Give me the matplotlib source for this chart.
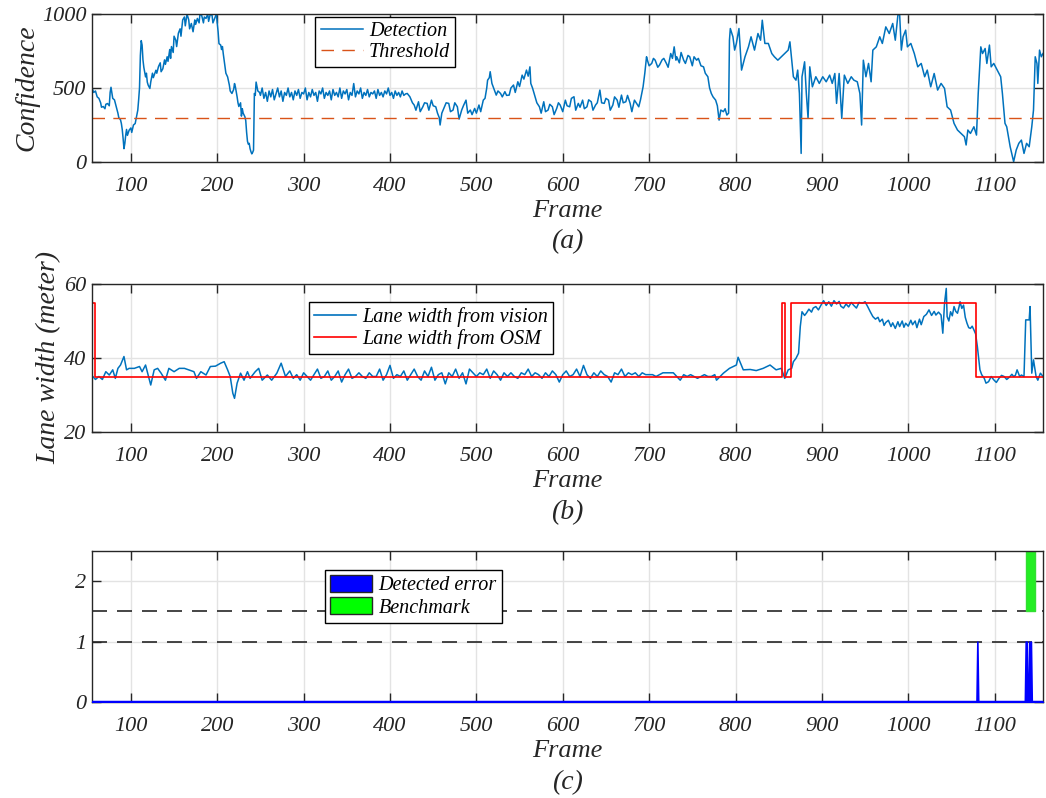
import numpy as np
import matplotlib.pyplot as plt
from matplotlib.patches import Patch
from matplotlib.lines import Line2D

plt.rcParams['font.family'] = ['Liberation Serif', 'DejaVu Serif']
plt.rcParams['font.style'] = 'italic'

# ---- (a) detection confidence ----
conf_frames = [55, 57, 59, 61, 63, 65, 66, 68, 70, 71, 73, 75, 76, 77, 79, 81, 83, 85, 86, 88,
               89, 90, 91, 92, 93, 94, 95, 96, 98, 100, 101, 103, 105, 107, 108, 109, 110, 111, 112, 113,
               114, 115, 117, 118, 119, 120, 122, 123, 125, 126, 127, 129, 130, 132, 134, 135, 137, 139, 140, 142,
               143, 145, 146, 147, 149, 150, 152, 153, 155, 157, 158, 160, 162, 163, 165, 167, 168, 170, 172, 174,
               175, 177, 179, 180, 182, 184, 185, 187, 189, 190, 192, 194, 195, 197, 199, 200, 201, 202, 204, 205,
               206, 207, 209, 210, 212, 214, 215, 217, 219, 220, 221, 223, 224, 225, 227, 228, 229, 230, 232, 233,
               234, 235, 236, 237, 238, 239, 240, 241, 242, 243, 244, 245, 247, 249,
               250, 252, 254, 256, 258, 260, 262, 264, 266, 268, 270, 272, 274, 276, 278, 280, 282, 284, 286, 288,
               290, 292, 294, 296, 298, 300, 302, 304, 306, 308, 310, 312, 314, 316, 318, 320, 322, 324, 326, 328,
               330, 332, 334, 336, 338, 340, 342, 344, 346, 348, 350, 352, 354, 356, 358, 360, 362, 364, 366, 368,
               370, 372, 374, 376, 378, 380, 382, 384, 386, 388, 390, 392, 394, 396, 398, 400, 402, 404, 406, 408,
               410, 412, 414, 416, 418,
               420, 423, 426, 428, 430, 433, 435, 438, 440, 443, 445, 448, 450, 453, 455, 457, 458, 460, 463, 465,
               468, 470, 473, 475, 478, 480, 483, 485, 488, 490, 493, 495, 498, 500, 503, 505, 508, 510, 512, 513,
               515, 516, 518, 520, 523, 525, 528, 530, 533, 535, 538, 540, 543, 545, 548, 550, 553, 555, 558, 560,
               562, 563, 565, 568, 570, 573, 575, 578, 580, 583, 585, 588, 590, 593, 595, 597, 600, 603, 605, 608,
               610, 613, 615, 618, 620, 623, 625, 628, 630, 633, 635, 638, 640, 643, 645, 648, 650, 653, 655, 658,
               660, 663, 665, 668, 670, 673, 675, 678, 680, 683, 685, 688, 690, 692, 693, 695, 697, 698, 700, 703,
               705, 707, 710, 712, 715, 717, 720, 722, 725, 727, 729, 731, 732, 735, 737, 740, 742, 745, 747, 750,
               752, 755, 757, 760, 763, 765, 768, 770, 772, 774, 777, 779, 781, 783, 786, 788, 790, 792,
               793, 794, 797, 799, 801, 804, 807, 811, 815, 818, 822, 826, 829, 831, 834, 838, 842, 845, 849, 853,
               857, 861, 863, 867, 870, 872, 874, 876, 877, 880, 882, 884, 886, 889, 893, 897, 901, 905, 909, 912,
               915, 917, 920, 923, 926, 930, 934, 937, 941, 944, 946, 948, 951, 954, 957, 959, 963, 967, 970, 974,
               978, 982, 985, 988, 990, 992, 994, 997, 999, 1003, 1007, 1011, 1015, 1019, 1022, 1026, 1030, 1034, 1038, 1042,
               1045, 1049, 1053, 1057, 1061, 1065, 1067, 1069, 1072, 1076, 1079, 1081, 1084, 1086, 1089, 1091, 1094, 1096, 1099, 1103,
               1107, 1109, 1112, 1114, 1118, 1122, 1125, 1128, 1131, 1134, 1137, 1140, 1143, 1145, 1147, 1149, 1150, 1152, 1154, 1156]
conf_vals = [500, 470, 480, 440, 430, 400, 370, 375, 360, 390, 395, 380, 470, 505, 430, 420, 375, 330, 300, 285,
             260, 220, 160, 90, 125, 180, 220, 180, 215, 230, 200, 250, 260, 320, 350, 420, 500, 720, 820, 790,
             690, 640, 575, 600, 540, 520, 497, 540, 600, 570, 587, 620, 600, 645, 670, 610, 630, 690, 660, 711,
             680, 760, 700, 780, 740, 850, 823, 780, 870, 900, 850, 960, 980, 920, 1000, 960, 900, 936, 880, 960,
             930, 970, 940, 1000, 990, 940, 980, 970, 1000, 950, 1000, 990, 940, 970, 1000, 940, 880, 800, 790, 760,
             780, 730, 640, 600, 575, 520, 480, 463, 490, 530, 508, 440, 400, 375, 400, 310, 360, 330, 306, 280,
             200, 140, 120, 126, 90, 70, 55, 65, 80, 463, 450, 540, 480, 470,
             450, 500, 430, 470, 410, 480, 440, 490, 420, 460, 500, 440, 480, 410, 470, 450, 500, 440, 470, 420,
             480, 450, 490, 430, 470, 460, 500, 420, 470, 440, 490, 450, 470, 410, 480, 460, 500, 430, 470, 450,
             480, 420, 490, 450, 470, 440, 500, 430, 480, 460, 490, 420, 470, 450, 530, 440, 480, 460, 500, 430,
             470, 450, 490, 440, 470, 460, 480, 430, 490, 450, 470, 440, 480, 460, 500, 450, 470, 430, 480, 450,
             470, 440, 480, 450, 460,
             463, 441, 400, 385, 350, 407, 340, 373, 400, 396, 350, 418, 380, 373, 330, 300, 250, 330, 373, 400,
             396, 340, 351, 400, 373, 290, 351, 380, 418, 330, 351, 320, 362, 330, 385, 340, 418, 430, 500, 553,
             570, 610, 531, 500, 452, 480, 463, 440, 475, 450, 452, 500, 520, 470, 542, 510, 587, 560, 621, 580,
             643, 531, 500, 441, 400, 373, 330, 407, 340, 351, 390, 373, 320, 362, 400, 385, 340, 418, 380, 373,
             430, 441, 350, 396, 370, 418, 360, 373, 420, 407, 350, 385, 400, 486, 400, 396, 430, 418, 350, 385,
             440, 418, 370, 452, 400, 407, 450, 396, 340, 418, 400, 373, 420, 480, 508, 600, 711, 688, 650, 666,
             700, 688, 640, 655, 690, 700, 666, 640, 733, 700, 778, 688, 711, 670, 740, 688, 666, 720, 711, 650,
             711, 688, 700, 650, 643, 600, 576, 500, 463, 440, 418, 380, 283, 351, 340, 360, 317, 330,
             823, 902, 846, 756, 801, 902, 621, 711, 778, 846, 756, 868, 823, 958, 801, 801, 733, 711, 688, 711,
             733, 756, 812, 576, 553, 621, 463, 58, 576, 677, 463, 295, 643, 508, 576, 531, 576, 542, 587, 531,
             598, 396, 598, 295, 587, 531, 576, 553, 542, 463, 250, 688, 576, 666, 542, 756, 778, 846, 801, 913,
             868, 936, 823, 992, 1000, 756, 846, 891, 778, 801, 733, 643, 666, 576, 621, 508, 598, 486, 531, 497,
             373, 351, 261, 216, 193, 171, 115, 216, 193, 238, 182, 463, 778, 733, 767, 666, 790, 643, 666, 621,
             576, 463, 261, 238, 103, 2, 81, 126, 148, 58, 126, 103, 238, 351, 711, 666, 531, 756, 711, 733]
threshold = 300

# ---- (b) lane width ----
lw_frames = [55, 56, 59, 63, 67, 71, 75, 79, 82, 85, 88, 92, 95, 98, 104, 110, 113, 117, 123, 127,
             131, 135, 140, 144, 150, 156, 162, 167, 173, 176, 181, 187, 192, 198, 204, 208, 212, 215, 218, 220,
             223, 227, 231, 235, 238, 244, 248, 252, 258, 263, 269, 274, 279,
             284, 288, 292, 296, 300, 304, 308, 312, 316, 320, 324, 328, 332, 336, 340, 344, 348, 352, 356, 360,
             364, 368, 372, 376, 380, 384, 388, 392, 396, 400, 404, 408, 412, 416, 420, 424, 428, 432, 436, 440,
             444, 448, 452, 456, 460, 464, 468, 472, 476, 480, 484, 488, 492, 496, 500, 504, 508, 512, 516, 520,
             524, 528, 532, 536, 540, 544, 548, 552, 556, 560, 564, 568, 572, 576, 580, 584, 588, 592, 596, 600,
             604, 608, 612, 616, 620, 624, 628, 632, 636, 640, 644, 648, 652, 656, 660, 664, 668, 672, 676, 680,
             684, 688, 692, 696, 700, 704, 708, 712, 716, 720, 724, 728, 732, 736, 740, 744, 748, 752, 756, 760,
             764, 768, 772, 776,
             778, 786, 793, 801, 803, 809, 817, 824, 832, 840, 847, 853, 857, 861, 865, 867, 870, 873, 875, 877,
             880, 882, 885, 888, 890, 893, 896, 899, 902, 905, 908, 911, 914, 917, 920, 922, 925, 928, 931, 934,
             937, 940, 943, 947, 950, 953, 956, 959, 962, 965, 967, 970, 972, 974, 977, 980, 982, 985, 988, 990,
             993, 995, 997, 1000, 1003, 1005, 1008, 1010, 1013, 1015, 1018, 1021, 1024, 1027, 1030, 1032, 1035, 1038, 1040, 1042,
             1044, 1045, 1047, 1049, 1051, 1053, 1055, 1057, 1059, 1060, 1062, 1064, 1066, 1068, 1070, 1072, 1074, 1076, 1078, 1080,
             1083, 1085, 1088, 1090, 1093, 1096, 1099, 1102, 1105, 1108, 1111, 1114, 1117, 1120, 1122, 1124, 1126, 1129, 1131, 1134,
             1136, 1140, 1141, 1143, 1145, 1148, 1150, 1153, 1156]
lw_vision = [35, 35, 34.2, 35, 34.2, 36.3, 35.4, 36.8, 34.5, 37.2, 38.1, 40.4, 36.8, 37.2, 37.2, 37.7, 36.3, 38.1, 32.7, 36.8,
             37.2, 35.9, 34, 37.2, 36.3, 37.2, 37.2, 36.8, 36.3, 34.5, 36.3, 35.4, 37.7, 37.8, 38.6, 39, 36.8, 35, 30.5, 29.1,
             33.2, 35.9, 34, 36.3, 34.5, 36.3, 37.2, 34, 35.4, 34, 35.9, 38.6, 35,
             36.5, 34.5, 35.5, 34, 36, 35, 34, 35.5, 37, 34.5, 35, 36.5, 34, 35, 36.5, 33.5, 35.5, 37, 34.5, 35,
             36, 35, 34.5, 36, 35, 35, 37, 34, 35.5, 38, 34.5, 35.5, 35, 36.5, 34, 35.5, 37, 35, 34, 36.5,
             35, 37.5, 34, 35.5, 36, 33, 36, 35, 37, 34.5, 36, 33, 37, 36, 35, 36, 35.5, 37, 34.5, 36.5,
             35.5, 34, 36, 35, 36, 35, 34.5, 36, 35.5, 37, 35, 36, 35.5, 34.5, 36, 35, 36.5, 35.5, 33.5, 35.5,
             36.5, 35, 35.5, 37, 35, 38, 35.5, 34.5, 36, 35, 36.5, 35.5, 35, 33.5, 36, 35.5, 37, 35, 36, 35.5,
             36, 35, 36, 35.5, 35.5, 35.5, 35, 35.5, 36, 36, 36, 36, 35, 34, 35.5, 35, 35.5, 35, 34.5, 35,
             35.5, 35, 35, 35.5,
             34, 35.9, 37.2, 38.1, 40.2, 36.8, 36.9, 36.6, 37.2, 38.1, 36.8, 37.2, 34.5, 36.8, 37.2, 39, 39.9, 41.3, 48.5, 52.5,
             51.5, 52.1, 53.2, 52.4, 53.5, 53.9, 53, 54.3, 55.5, 54.2, 55.2, 54, 55.5, 54.6, 55.3, 54, 53.5, 54.6, 53.8, 55,
             54.2, 53.5, 55, 54.8, 55.2, 53.9, 52.5, 51.2, 50.5, 51, 49.8, 50.5, 48.8, 49.6, 50.2, 48.5, 49.5, 48, 49.8, 48.5,
             50, 48.3, 49.4, 48.6, 50.2, 49, 50, 48.2, 50.5, 49, 51.2, 51.8, 53, 51.5, 52.6, 51.6, 52.4, 51.6, 46.7, 54.8,
             58.8, 51.2, 50, 52.5, 51.4, 53.9, 52.6, 52.1, 54, 55.2, 53.4, 54.3, 51, 49.4, 48.2, 48, 48.6, 47.6, 46.5, 43.1,
             36.8, 35.5, 34.5, 33.2, 33.6, 35, 34.1, 33.4, 34.5, 35.3, 35, 34.2, 34.8, 35.6, 35, 35.3, 36.8, 35, 35.4, 35,
             50.3, 50.3, 53.9, 35.9, 39.5, 35, 34, 35.9, 35]
# OSM lane width: value holds from each change frame until the next one
osm_change_frames = [55, 59, 854, 857, 864, 1079, 1156]
osm_width = [55, 35, 55, 35, 55, 35, 35]

# ---- (c) detected error / benchmark ----
frame_range = (55, 1156)
error_frames = [1080, 1136, 1137, 1140, 1142]
bench_start, bench_end = 1136, 1147
dashed_levels = [1, 1.5]

blue = '#0072BD'
orange = '#D95319'
txt = '#262626'
grid_c = '#e3e3e3'

fig = plt.figure(figsize=(10.46, 7.98), dpi=100)
W, H = 1046, 798
def add_ax(top, bottom):
    return fig.add_axes([92 / W, 1 - bottom / H, (1043 - 92) / W, (bottom - top) / H])

ax1 = add_ax(14, 162)
ax2 = add_ax(284, 432)
ax3 = add_ax(551, 702)

def style(ax, yticks, ylim):
    ax.set_xlim(*frame_range)
    ax.set_ylim(*ylim)
    ax.set_xticks(range(100, 1101, 100))
    ax.set_yticks(yticks)
    ax.grid(True, color=grid_c, lw=1)
    ax.set_axisbelow(True)
    ax.tick_params(direction='in', length=6.5, width=1, top=True, right=True,
                   labelsize=16, colors=txt)
    ax.tick_params(axis='x', pad=11)
    ax.tick_params(axis='y', pad=4)
    for s in ax.spines.values():
        s.set_color(txt)
        s.set_linewidth(1)

legend_kw = dict(loc='upper left', fontsize=14.5, fancybox=False, edgecolor='black', framealpha=1,
                 handlelength=2.1, borderpad=0.25, labelspacing=0.1, handletextpad=0.3,
                 borderaxespad=0)

# (a)
ax1.plot(conf_frames, conf_vals, color=blue, lw=1.1)
ax1.axhline(threshold, color=orange, lw=1, linestyle=(0, (9, 6)))
style(ax1, [0, 500, 1000], (0, 1000))
ax1.set_ylabel('Confidence', fontsize=20, color=txt, labelpad=2)
ax1.set_xlabel('Frame', fontsize=19, color=txt, labelpad=3)
leg1 = ax1.legend(handles=[Line2D([], [], color=blue, lw=1.1),
                           Line2D([], [], color=orange, lw=1, linestyle=(0, (9, 6)))],
                  labels=['Detection', 'Threshold'], bbox_to_anchor=(0.235, 0.98), **legend_kw)
leg1.get_frame().set_linewidth(1)
fig.text(567 / W, 1 - 242 / H, '(a)', fontsize=20, color=txt, ha='center', va='center')

# (b)
ax2.plot(lw_frames, lw_vision, color=blue, lw=1.1)
ax2.step(osm_change_frames, osm_width, where='post', color='red', lw=1.2)
style(ax2, [20, 40, 60], (20, 60))
ax2.set_ylabel('Lane width (meter)', fontsize=20, color=txt, labelpad=2)
ax2.set_xlabel('Frame', fontsize=19, color=txt, labelpad=3)
leg2 = ax2.legend(handles=[Line2D([], [], color=blue, lw=1.2), Line2D([], [], color='red', lw=1.2)],
                  labels=['Lane width from vision', 'Lane width from OSM'],
                  bbox_to_anchor=(0.228, 0.878), **legend_kw)
leg2.get_frame().set_linewidth(1)
fig.text(567 / W, 1 - 513 / H, '(b)', fontsize=20, color=txt, ha='center', va='center')

# (c)
frames = np.arange(frame_range[0], frame_range[1] + 1)
err = np.isin(frames, error_frames).astype(float)
bench = ((frames >= bench_start) & (frames <= bench_end)).astype(float)
for lvl in dashed_levels:
    ax3.axhline(lvl, color=txt, lw=1.2, linestyle=(0, (9, 6)), zorder=1)
ax3.fill_between(frames, 0, err, color='blue', lw=1.2, edgecolor='blue', zorder=3)
ax3.axhline(0, color='blue', lw=2.5, zorder=3)
ax3.fill_between(frames, 1.5, 1.5 + bench, where=bench > 0, step='mid', color='#22ee22',
                 edgecolor='#33dd33', lw=1, zorder=2)
style(ax3, [0, 1, 2], (0, 2.5))
ax3.set_xlabel('Frame', fontsize=19, color=txt, labelpad=3)
leg3 = ax3.legend(handles=[Patch(facecolor='blue', edgecolor=txt), Patch(facecolor='#00FF00', edgecolor=txt)],
                  labels=['Detected error', 'Benchmark'], bbox_to_anchor=(0.245, 0.874),
                  handleheight=0.9, **legend_kw)
leg3.get_frame().set_linewidth(1)
fig.text(567 / W, 1 - 783 / H, '(c)', fontsize=20, color=txt, ha='center', va='center')

fig.savefig('out.png', dpi=100)
